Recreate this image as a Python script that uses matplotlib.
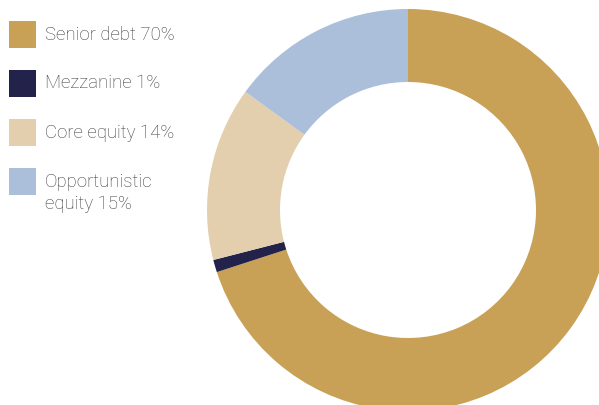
import matplotlib
matplotlib.use("Agg")
import matplotlib.pyplot as plt
from matplotlib.patches import Rectangle

labels = ["Senior debt 70%", "Mezzanine 1%", "Core equity 14%", "Opportunistic\nequity 15%"]
shares = [70, 1, 14, 15]
colors = ["#C8A056", "#22224A", "#E3CFAD", "#ABBFDB"]

W, H = 599, 405
fig = plt.figure(figsize=(W / 100, H / 100), dpi=100)
ax = fig.add_axes([0, 0, 1, 1])

ax.pie(shares, colors=colors, startangle=90, counterclock=False,
       center=(408, H - 210), radius=201,
       wedgeprops=dict(width=73, linewidth=0))

# legend swatches and labels
font = dict(family="Roboto", fontweight="light", color="#3c3c3c", fontsize=13.4)
for i, (lab, col) in enumerate(zip(labels, colors)):
    top = 21 + 49 * i
    ax.add_patch(Rectangle((9, H - top - 27), 27, 27, color=col, lw=0))
    nlines = lab.count("\n") + 1
    ax.text(45, H - top - 13.5 - 11.5 * (nlines - 1), lab, va="center", ha="left",
            linespacing=1.3, **font)

ax.set_xlim(0, W)
ax.set_ylim(0, H)
ax.set_aspect("auto")
ax.axis("off")
fig.savefig("out.png", dpi=100)
